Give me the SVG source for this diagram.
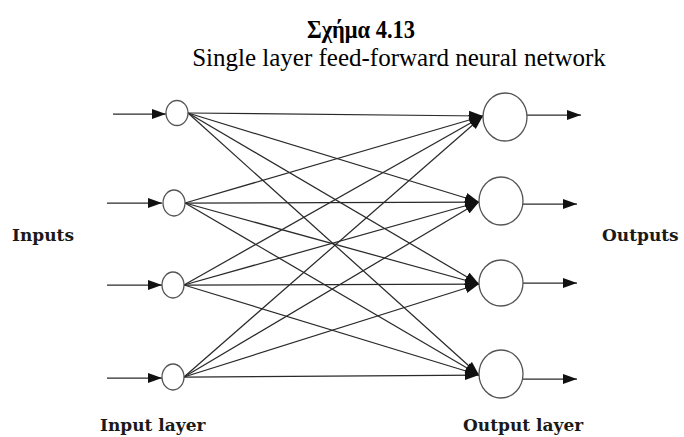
<svg xmlns="http://www.w3.org/2000/svg" width="684" height="437" viewBox="0 0 684 437">
  <defs>
    <marker id="arrow" markerUnits="userSpaceOnUse" markerWidth="15" markerHeight="11" refX="14" refY="5.5" orient="auto">
      <path d="M0,0.5 L14,5.5 L0,10.5 z" fill="#111"/>
    </marker>
    <style>
      .title { font-family: "Liberation Serif", "Times New Roman", serif; fill: #000; text-anchor: middle; }
      .label { font-family: "DejaVu Serif", serif; font-weight: bold; font-size: 17px; fill: #1a1a1a; }
      .node { fill: #fff; stroke: #555; stroke-width: 1.3; }
      .wire { stroke: #2a2a2a; stroke-width: 1.25; fill: none; }
      .arrowed { marker-end: url(#arrow); }
    </style>
  </defs>
  <rect width="684" height="437" fill="#fff"/>

  <text class="title" x="361" y="38" font-size="26" font-weight="bold" textLength="108" lengthAdjust="spacingAndGlyphs">Σχήμα 4.13</text>
  <text class="title" x="399" y="66" font-size="25">Single layer feed-forward neural network</text>

  <text class="label" x="12" y="241">Inputs</text>
  <text class="label" x="602" y="241">Outputs</text>
  <text class="label" x="100" y="431">Input layer</text>
  <text class="label" x="463" y="431">Output layer</text>

  <g id="connectors">
    <!-- incoming signals -->
    <line class="wire arrowed" x1="113" y1="114" x2="166" y2="114"/>
    <line class="wire arrowed" x1="107" y1="203" x2="162" y2="203"/>
    <line class="wire arrowed" x1="107" y1="285" x2="162" y2="285"/>
    <line class="wire arrowed" x1="107" y1="378" x2="162" y2="378"/>
    <!-- full connections input layer -> output layer -->
    <line class="wire arrowed" x1="188" y1="113" x2="483" y2="116"/>
    <line class="wire arrowed" x1="188" y1="113" x2="479" y2="202"/>
    <line class="wire arrowed" x1="188" y1="113" x2="479" y2="284"/>
    <line class="wire arrowed" x1="188" y1="113" x2="479" y2="375"/>
    <line class="wire arrowed" x1="185" y1="203" x2="483" y2="116"/>
    <line class="wire arrowed" x1="185" y1="203" x2="479" y2="202"/>
    <line class="wire arrowed" x1="185" y1="203" x2="479" y2="284"/>
    <line class="wire arrowed" x1="185" y1="203" x2="479" y2="375"/>
    <line class="wire arrowed" x1="184" y1="285" x2="483" y2="116"/>
    <line class="wire arrowed" x1="184" y1="285" x2="479" y2="202"/>
    <line class="wire arrowed" x1="184" y1="285" x2="479" y2="284"/>
    <line class="wire arrowed" x1="184" y1="285" x2="479" y2="375"/>
    <line class="wire arrowed" x1="184" y1="377" x2="483" y2="116"/>
    <line class="wire arrowed" x1="184" y1="377" x2="479" y2="202"/>
    <line class="wire arrowed" x1="184" y1="377" x2="479" y2="284"/>
    <line class="wire arrowed" x1="184" y1="377" x2="479" y2="375"/>
    <!-- outgoing signals -->
    <line class="wire arrowed" x1="527" y1="115" x2="581" y2="115"/>
    <line class="wire arrowed" x1="523" y1="204" x2="577" y2="204"/>
    <line class="wire arrowed" x1="523" y1="283" x2="577" y2="283"/>
    <line class="wire arrowed" x1="523" y1="379" x2="577" y2="379"/>
  </g>

  <g id="in1"><ellipse class="node" cx="177" cy="113" rx="11" ry="12.5"/></g>
  <g id="in2"><ellipse class="node" cx="174" cy="203" rx="11" ry="13"/></g>
  <g id="in3"><ellipse class="node" cx="173" cy="285" rx="11" ry="13"/></g>
  <g id="in4"><ellipse class="node" cx="173" cy="377" rx="11" ry="13"/></g>

  <g id="out1"><ellipse class="node" cx="505" cy="117" rx="22" ry="24"/></g>
  <g id="out2"><ellipse class="node" cx="501" cy="201" rx="22" ry="24"/></g>
  <g id="out3"><ellipse class="node" cx="501" cy="283" rx="22" ry="23"/></g>
  <g id="out4"><ellipse class="node" cx="501" cy="374" rx="22" ry="24"/></g>
</svg>
